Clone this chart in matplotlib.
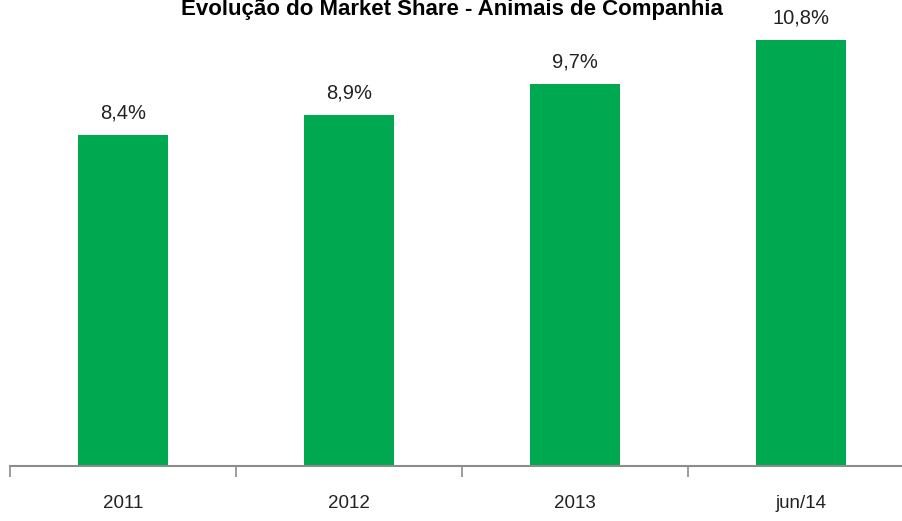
import numpy as np
import matplotlib.pyplot as plt

plt.rcParams['font.family'] = ['Liberation Sans', 'DejaVu Sans']

# dados
categorias = ['2011', '2012', '2013', 'jun/14']
valores = [8.4, 8.9, 9.7, 10.8]
rotulos = ['8,4%', '8,9%', '9,7%', '10,8%']

fig = plt.figure(figsize=(9.03, 5.21), dpi=100)
ax = fig.add_axes([10 / 903, 1 - 466 / 521, 904 / 903, 466 / 521])

x = np.arange(len(categorias))
barras = ax.bar(x, valores, width=0.4, color='#00A94F')

for b, r in zip(barras, rotulos):
    ax.annotate(r, xy=(b.get_x() + b.get_width() / 2, b.get_height()),
                xytext=(0, 9), textcoords='offset points',
                ha='center', va='bottom', fontsize=14.5, color='#222222')

ax.set_xlim(-0.5, len(categorias) - 0.5)
ax.set_ylim(0, 466 / 39.4)
ax.set_xticks(np.arange(len(categorias) + 1) - 0.5, minor=False)
ax.set_xticklabels([])
ax.set_xticks(x, minor=True)
ax.set_xticklabels(categorias, minor=True, fontsize=13.5, color='#222222')
ax.tick_params(axis='x', which='major', length=8, width=1.2, color='#8c8c8c', direction='out')
ax.tick_params(axis='x', which='minor', length=0, pad=21)
ax.set_yticks([])

for s in ['top', 'right', 'left']:
    ax.spines[s].set_visible(False)
ax.spines['bottom'].set_color('#8c8c8c')
ax.spines['bottom'].set_linewidth(1.5)

fig.text(0.5 + 0.5 / 903, 1 - 15 / 521, 'Evolução do Market Share - Animais de Companhia',
         ha='center', va='baseline', fontsize=16, fontweight='bold')

fig.savefig('out.png', dpi=100)
